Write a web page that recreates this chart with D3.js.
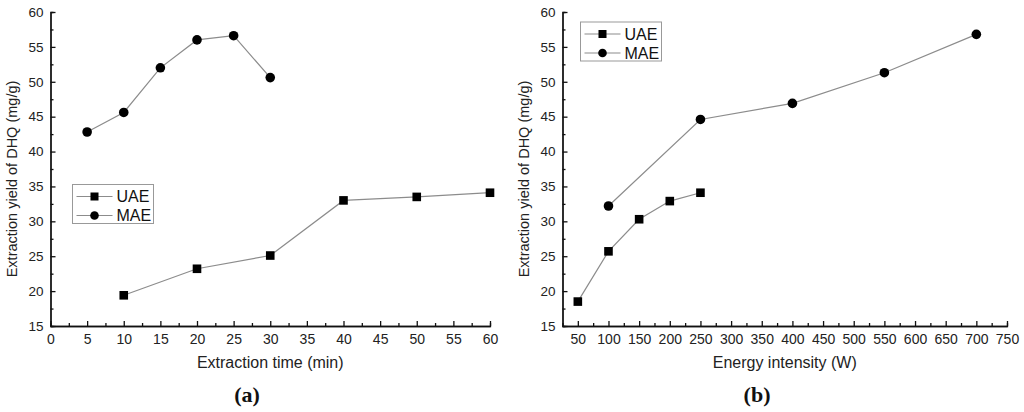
<!DOCTYPE html>
<html>
<head>
<meta charset="utf-8">
<script src="https://cdn.jsdelivr.net/npm/d3@7"></script>
<style>
  body { margin: 0; background: #fff; }
  svg { display: block; }
  .tick text { font-family: "Liberation Sans", Arial, sans-serif; font-size: 13.5px; fill: #222; }
  .xaxis .tick text { font-size: 14px; }
  .axis path, .axis line { stroke: #111; stroke-width: 1.3; }
</style>
</head>
<body>
<svg id="chart" width="1024" height="412"></svg>
<script>
// panel (a): extraction time
const timeUAE = [10, 20, 30, 40, 50, 60]
const yieldTimeUAE = [19.4, 23.2, 25.1, 33.0, 33.5, 34.1]
const timeMAE = [5, 10, 15, 20, 25, 30]
const yieldTimeMAE = [42.8, 45.6, 52.0, 56.0, 56.6, 50.6]
const timeTicks = [0, 5, 10, 15, 20, 25, 30, 35, 40, 45, 50, 55, 60]

// panel (b): energy intensity
const powerUAE = [50, 100, 150, 200, 250]
const yieldPowerUAE = [18.5, 25.7, 30.3, 32.9, 34.1]
const powerMAE = [100, 250, 400, 550, 700]
const yieldPowerMAE = [32.2, 44.6, 46.9, 51.3, 56.8]
const powerTicks = [50, 100, 150, 200, 250, 300, 350, 400, 450, 500, 550, 600, 650, 700, 750]

const yieldTicks = [15, 20, 25, 30, 35, 40, 45, 50, 55, 60]
const seriesNames = ['UAE', 'MAE']

const svg = d3.select('#chart')
const lineColor = '#8c8c8c'
const font = '"Liberation Sans", Arial, sans-serif'

function panel(opts) {
    const g = svg.append('g')
    const x = d3.scaleLinear().domain(opts.xDomain).range([opts.left, opts.right])
    const y = d3.scaleLinear().domain([15, 60]).range([326, 12])

    // minor ticks
    g.append('g')
        .attr('class', 'axis')
        .attr('transform', 'translate(0,326)')
        .call(d3.axisBottom(x).tickValues(opts.xMinor).tickSize(-3).tickFormat(''))
    g.append('g')
        .attr('class', 'axis')
        .attr('transform', `translate(${opts.left},0)`)
        .call(d3.axisLeft(y).tickValues(d3.range(17.5, 60, 5)).tickSize(-3).tickFormat(''))

    // major ticks
    const xa = g.append('g')
        .attr('class', 'axis xaxis')
        .attr('transform', 'translate(0,326)')
        .call(d3.axisBottom(x).tickValues(opts.xTicks).tickSizeInner(-5).tickSizeOuter(0).tickPadding(6))
    xa.selectAll('.tick text').attr('dy', '0.85em')
    g.append('g')
        .attr('class', 'axis')
        .attr('transform', `translate(${opts.left},0)`)
        .call(d3.axisLeft(y).tickValues(yieldTicks).tickSizeInner(-5).tickSizeOuter(0).tickPadding(7))

    g.selectAll('.domain').attr('stroke', '#111').attr('stroke-width', 1.4)

    // axis titles
    g.append('text')
        .attr('x', (opts.left + opts.right) / 2)
        .attr('y', 368)
        .attr('text-anchor', 'middle')
        .attr('font-family', font)
        .attr('font-size', 16)
        .attr('fill', '#222')
        .text(opts.xTitle)
    g.append('text')
        .attr('transform', `translate(${opts.left - 33.5},179) rotate(-90)`)
        .attr('text-anchor', 'middle')
        .attr('font-family', font)
        .attr('font-size', 14.5)
        .attr('fill', '#222')
        .text('Extraction yield of DHQ (mg/g)')

    // panel letter
    const lab = g.append('text')
        .attr('x', opts.labelX)
        .attr('y', 402)
        .attr('text-anchor', 'middle')
        .attr('font-family', '"Liberation Serif", "Times New Roman", serif')
        .attr('font-size', 22)
        .attr('font-weight', 'bold')
        .attr('fill', '#111')
    lab.append('tspan').text('(')
    lab.append('tspan').text(opts.letter)
    lab.append('tspan').text(')')

    const line = d3.line().x(d => x(d[0])).y(d => y(d[1]))
    const drawSeries = (xs, ys, shape) => {
        const pts = xs.map((v, i) => [v, ys[i]])
        g.append('path')
            .datum(pts)
            .attr('d', line)
            .attr('fill', 'none')
            .attr('stroke', lineColor)
            .attr('stroke-width', 1.2)
        if (shape == 'square') {
            g.selectAll(null).data(pts).enter().append('rect')
                .attr('x', d => x(d[0]) - 4.3)
                .attr('y', d => y(d[1]) - 4.3)
                .attr('width', 8.6)
                .attr('height', 8.6)
                .attr('fill', '#000')
        } else {
            g.selectAll(null).data(pts).enter().append('circle')
                .attr('cx', d => x(d[0]))
                .attr('cy', d => y(d[1]))
                .attr('r', 4.8)
                .attr('fill', '#000')
        }
    }
    drawSeries(opts.uaeX, opts.uaeY, 'square')
    drawSeries(opts.maeX, opts.maeY, 'circle')

    // legend
    const lg = g.append('g').attr('transform', `translate(${opts.legend[0]},${opts.legend[1]})`)
    lg.append('rect')
        .attr('width', 81)
        .attr('height', 39)
        .attr('fill', '#fff')
        .attr('stroke', '#999')
        .attr('stroke-width', 1)
    seriesNames.forEach((name, i) => {
        const cy = 12 + i * 19
        lg.append('line')
            .attr('x1', 4).attr('x2', 40)
            .attr('y1', cy).attr('y2', cy)
            .attr('stroke', lineColor)
            .attr('stroke-width', 1.1)
        if (i == 0) {
            lg.append('rect').attr('x', 22 - 4).attr('y', cy - 4).attr('width', 8).attr('height', 8).attr('fill', '#000')
        } else {
            lg.append('circle').attr('cx', 22).attr('cy', cy).attr('r', 4.3).attr('fill', '#000')
        }
        lg.append('text')
            .attr('x', 44)
            .attr('y', cy + 5.5)
            .attr('font-family', font)
            .attr('font-size', 16)
            .attr('fill', '#111')
            .text(name)
    })
}

panel({
    xDomain: [0, 60], left: 50.5, right: 490,
    xTicks: timeTicks, xMinor: d3.range(2.5, 60, 5),
    xTitle: 'Extraction time (min)', letter: 'a', labelX: 247,
    uaeX: timeUAE, uaeY: yieldTimeUAE, maeX: timeMAE, maeY: yieldTimeMAE,
    legend: [72.5, 184.5]
})

panel({
    xDomain: [25, 750], left: 562.5, right: 1007,
    xTicks: powerTicks, xMinor: d3.range(75, 750, 50),
    xTitle: 'Energy intensity (W)', letter: 'b', labelX: 757,
    uaeX: powerUAE, uaeY: yieldPowerUAE, maeX: powerMAE, maeY: yieldPowerMAE,
    legend: [580.5, 22]
})
</script>
</body>
</html>
